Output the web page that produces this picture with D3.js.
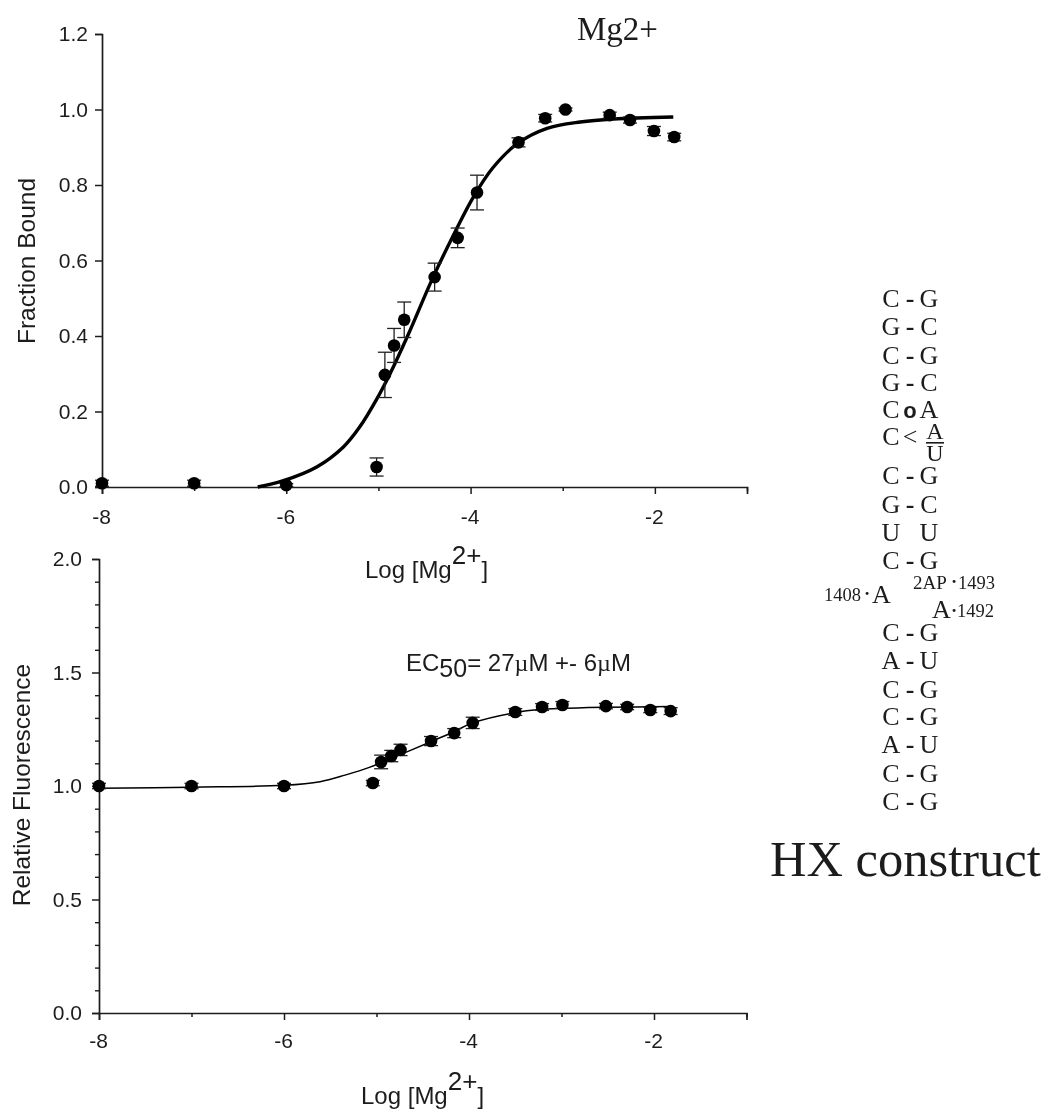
<!DOCTYPE html>
<html><head><meta charset="utf-8">
<script src="https://cdn.jsdelivr.net/npm/d3@7/dist/d3.min.js"></script>
<style>
html,body{margin:0;padding:0;background:#fff}
svg{display:block;filter:blur(0.35px)}
text{fill:#1c1c1c}
.sans{font-family:"Liberation Sans",Arial,sans-serif}
.serif{font-family:"Liberation Serif","Times New Roman",serif}
</style></head><body><svg id="c" width="1045" height="1112"></svg>
<script>
// Top panel: fraction bound
const topX=[-8,-7,-6,-5.02,-4.93,-4.83,-4.72,-4.39,-4.14,-3.93,-3.48,-3.19,-2.97,-2.49,-2.27,-2.01,-1.79];
const topY=[0.01,0.01,0.005,0.053,0.297,0.375,0.443,0.556,0.66,0.78,0.913,0.977,1.0,0.985,0.972,0.943,0.927];
const topErr=[0.008,0.008,0.004,0.024,0.06,0.045,0.047,0.037,0.026,0.046,0.012,0.01,0.004,0.008,0.008,0.012,0.01];
const topCurveX=[-6.31,-6.04,-5.67,-5.38,-5.2,-5.02,-4.87,-4.68,-4.41,-4.17,-3.97,-3.76,-3.49,-3.17,-2.81,-2.45,-1.8];
const topCurveY=[0,0.016,0.053,0.106,0.16,0.232,0.302,0.402,0.554,0.675,0.768,0.845,0.91,0.95,0.967,0.975,0.98];
// Bottom panel: relative fluorescence
const botX=[-8,-7,-6,-5.04,-4.95,-4.84,-4.74,-4.41,-4.16,-3.96,-3.5,-3.21,-2.99,-2.52,-2.29,-2.04,-1.82];
const botY=[1.0,1.0,1.0,1.013,1.106,1.132,1.159,1.198,1.233,1.278,1.326,1.348,1.357,1.352,1.348,1.335,1.33];
const botErr=[0.012,0.012,0.012,0.012,0.03,0.025,0.025,0.02,0.02,0.025,0.015,0.015,0.015,0.012,0.012,0.012,0.015];
const botCurveX=[-8,-7,-6,-5.61,-5.34,-5.07,-4.75,-4.42,-4.17,-3.96,-3.52,-3.21,-2.83,-2.51,-1.83];
const botCurveY=[0.99,0.995,1.003,1.019,1.048,1.083,1.137,1.194,1.238,1.278,1.322,1.338,1.344,1.347,1.35];
const xTicks=[-8,-6,-4,-2];
const xMinor=[-7,-5,-3,-1];
const topYTicks=[0,0.2,0.4,0.6,0.8,1.0,1.2];
const botYTicks=[0,0.5,1.0,1.5,2.0];
const botYMinor=[0.1,0.2,0.3,0.4,0.6,0.7,0.8,0.9,1.1,1.2,1.3,1.4,1.6,1.7,1.8,1.9];
// Construct diagram
const stemLeft=["C","G","C","G","C","C","C","G","U","C","C","A","C","C","A","C","C"];
const stemMid=["-","-","-","-","o","<","-","-","","-","-","-","-","-","-","-","-"];
const stemRight=["G","C","G","C","A","A","G","C","U","G","G","U","G","G","U","G","G"];
const stemRowY=[299,327,356,383,410,437,476,505,533,561,633,661,690,717,745,774,802];

const svg=d3.select("#c");
const ink="#1c1c1c";

function panel(o){
  const x=d3.scaleLinear().domain([-8,-1]).range(o.xr);
  const y=d3.scaleLinear().domain(o.yd).range(o.yr);
  const g=svg.append("g").attr("class","sans");
  const xa=d3.axisBottom(x).tickValues(xTicks).tickFormat(v=>String(v)).tickSize(7).tickPadding(o.xpad);
  const xm=d3.axisBottom(x).tickValues(xMinor).tickFormat("").tickSize(4);
  const ya=d3.axisLeft(y).tickValues(o.yt).tickFormat(d3.format(".1f")).tickSize(7).tickPadding(o.ypad);
  const X=g.append("g").attr("transform",`translate(0,${o.yr[0]})`).call(xa);
  const Xm=g.append("g").attr("transform",`translate(0,${o.yr[0]})`).call(xm);
  const Y=g.append("g").attr("transform",`translate(${o.xr[0]},0)`).call(ya);
  if(o.ym){
    const Ym=g.append("g").attr("transform",`translate(${o.xr[0]},0)`).call(d3.axisLeft(y).tickValues(o.ym).tickFormat("").tickSize(4));
    Ym.select(".domain").remove();
    Ym.selectAll("line").attr("stroke",ink).attr("stroke-width",1.4);
  }
  [X,Y].forEach(a=>{a.selectAll("text").attr("font-size",21).attr("font-family","Liberation Sans").style("fill",ink);});
  X.selectAll("text").attr("dx",-1);
  [X,Xm,Y].forEach(a=>{a.selectAll("line").attr("stroke",ink).attr("stroke-width",1.5);a.select(".domain").attr("stroke",ink).attr("stroke-width",1.7);});
  Xm.select(".domain").remove();
  const line=d3.line().x(d=>x(d[0])).y(d=>y(d[1])).curve(d3.curveCatmullRom.alpha(0.5));
  g.append("path").attr("d",line(d3.zip(o.cx,o.cy))).attr("fill","none").attr("stroke","#000").attr("stroke-width",o.lw);
  const pts=d3.zip(o.px,o.py,o.pe);
  const cap=7;
  const eb=g.append("g").attr("stroke","#222").attr("stroke-width",1.3);
  pts.forEach(p=>{
    const a=y(p[1]-p[2]),b=y(p[1]+p[2]),c=x(p[0]);
    eb.append("line").attr("x1",c).attr("x2",c).attr("y1",a).attr("y2",b);
    eb.append("line").attr("x1",c-cap).attr("x2",c+cap).attr("y1",a).attr("y2",a);
    eb.append("line").attr("x1",c-cap).attr("x2",c+cap).attr("y1",b).attr("y2",b);
  });
  g.append("g").selectAll("circle").data(pts).join("circle")
    .attr("cx",d=>x(d[0])).attr("cy",d=>y(d[1])).attr("r",6.3).attr("fill","#000");
}
panel({xr:[102,747],yr:[487,34],yd:[0,1.2],yt:topYTicks,xpad:15,ypad:7,px:topX,py:topY,pe:topErr,cx:topCurveX,cy:topCurveY,lw:3.4});
panel({xr:[99,746.5],yr:[1013,559],yd:[0,2],yt:botYTicks,ym:botYMinor,xpad:13,ypad:10,px:botX,py:botY,pe:botErr,cx:botCurveX,cy:botCurveY,lw:1.5});

function logLabel(x,y){
  const t=svg.append("text").attr("class","sans").attr("x",x).attr("y",y).attr("font-size",24);
  t.append("tspan").text("Log [Mg");
  t.append("tspan").attr("font-size",26).attr("dy",-14).text("2+");
  t.append("tspan").attr("dy",14).text("]");
}
logLabel(365,578);
logLabel(361,1104);
svg.append("text").attr("class","sans").attr("font-size",24.5).attr("text-anchor","middle")
  .attr("transform","translate(35,261) rotate(-90)").text("Fraction Bound");
svg.append("text").attr("class","sans").attr("font-size",24.5).attr("text-anchor","middle")
  .attr("transform","translate(30,785) rotate(-90)").text("Relative Fluorescence");

svg.append("text").attr("class","serif").attr("x",577).attr("y",40).attr("font-size",33).text("Mg2+");

const ec=svg.append("text").attr("class","sans").attr("x",406).attr("y",671).attr("font-size",24);
ec.append("tspan").text("EC");
ec.append("tspan").attr("font-size",25).attr("dy",6).text("50");
ec.append("tspan").attr("dy",-6).text("= 27");
ec.append("tspan").attr("font-family","Liberation Serif").text("\u00b5");
ec.append("tspan").text("M +- 6");
ec.append("tspan").attr("font-family","Liberation Serif").text("\u00b5");
ec.append("tspan").text("M");

const d=svg.append("g").attr("class","serif").attr("font-size",26).attr("text-anchor","middle");
stemRowY.forEach((yy,i)=>{
  d.append("text").attr("x",891).attr("y",yy+8).text(stemLeft[i]);
  const m=stemMid[i];
  d.append("text").attr("x",910).attr("y",yy+8)
    .attr("font-family",m==="o"?"Liberation Sans":null)
    .attr("font-size",m==="o"?22:26)
    .attr("font-weight",m==="<"?"normal":"bold").text(m);
  d.append("text").attr("x",i===5?935:929).attr("y",i===5?439:yy+8).attr("font-size",i===5?24:26).text(stemRight[i]);
});
d.append("text").attr("x",935).attr("y",461).attr("font-size",24).text("U");
d.append("rect").attr("x",926).attr("y",442).attr("width",18).attr("height",1.6).attr("fill",ink);
const small=svg.append("g").attr("class","serif").attr("font-size",18.5);
small.append("text").attr("x",824).attr("y",601).text("1408");
small.append("text").attr("x",864).attr("y",600).attr("font-weight","bold").text("\u00b7");
small.append("text").attr("x",872).attr("y",603).attr("font-size",26).text("A");
small.append("text").attr("x",913).attr("y",589).attr("font-size",19).text("2AP");
small.append("text").attr("x",951).attr("y",588).attr("font-weight","bold").text("\u00b7");
small.append("text").attr("x",958).attr("y",589).text("1493");
small.append("text").attr("x",932).attr("y",618).attr("font-size",26).text("A");
small.append("text").attr("x",951).attr("y",617).attr("font-weight","bold").text("\u00b7");
small.append("text").attr("x",957).attr("y",617).text("1492");

svg.append("text").attr("class","serif").attr("x",770).attr("y",876).attr("font-size",50.5).text("HX construct");
</script></body></html>
